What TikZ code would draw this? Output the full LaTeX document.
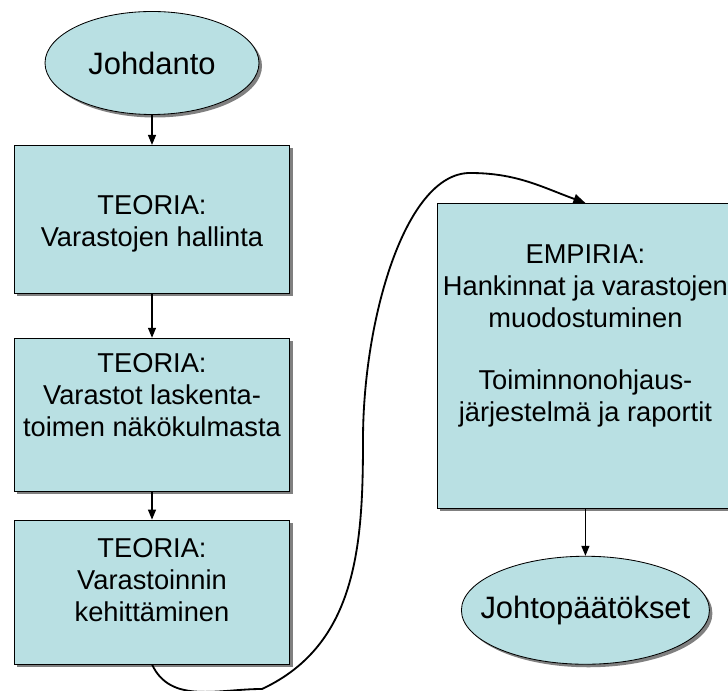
\documentclass[tikz,border=0pt]{standalone}
\usepackage{fontspec}
\setmainfont{Liberation Sans}
\usetikzlibrary{shapes.geometric,shadows,arrows.meta,positioning}
\definecolor{boxfill}{RGB}{185,224,227}

\begin{document}
\begin{tikzpicture}[
                        box/.style={
                            draw,
                            fill=boxfill,
                            line width=0.6pt,
                            minimum width=6.875cm,
                            drop shadow={shadow xshift=0.075cm, shadow yshift=-0.075cm,
                                         fill=black!50, opacity=1}
                        },
                        endball/.style={
                            ellipse,
                            draw,
                            fill=boxfill,
                            line width=0.6pt,
                            inner sep=0pt,
                            drop shadow={shadow xshift=0.075cm, shadow yshift=-0.075cm,
                                         fill=black!50, opacity=1}
                        },
                        balltext/.style={
                            inner sep=0pt,
                            font=\fontsize{22}{26}\selectfont
                        },
                        boxtext/.style={
                            align=center,
                            inner sep=0pt,
                            font=\fontsize{19.4}{22.8}\selectfont
                        },
                        flow/.style={
                            -{Triangle[length=2.5mm,width=2mm]},
                            line width=0.9pt
                        }
                    ]

                    \useasboundingbox (0,0) rectangle (18.2,-17.275);

                    % Johdanto (ellipse, top-left)
                    \node[endball,
                        minimum width=5.35cm,
                        minimum height=2.575cm
                    ] (intro) at (3.8,-1.575) {};

                    \node[balltext] (introtext) at (intro.center) {Johdanto};

                    % TEORIA 1
                    \node[box,
                        minimum height=3.7cm,
                        anchor=north
                    ] (t1) at ([yshift=-0.75cm] intro.south) {};

                    \node[boxtext] (t1text)
                        at ([yshift=-0.1cm] t1.center)
                        {TEORIA:\\Varastojen hallinta};

                    % TEORIA 2
                    \node[box,
                        minimum height=3.825cm,
                        anchor=north
                    ] (t2) at ([yshift=-1.1cm] t1.south) {};

                    \node[boxtext] (t2text)
                        at ([yshift=0.5cm] t2.center)
                        {TEORIA:\\Varastot laskenta-\\toimen näkökulmasta};

                    % TEORIA 3
                    \node[box,
                        minimum height=3.6cm,
                        anchor=north
                    ] (t3) at ([yshift=-0.7cm] t2.south) {};

                    \node[boxtext] (t3text)
                        at ([yshift=0.3cm] t3.center)
                        {TEORIA:\\Varastoinnin\\kehittäminen};

                    % EMPIRIA (right column)
                    \node[box,
                        minimum width=7.4cm,
                        minimum height=7.625cm,
                        anchor=north west
                    ] (emp) at (10.925,-5.075) {};

                    \node[boxtext] (emptext)
                        at ([yshift=0.5cm] emp.center)
                        {EMPIRIA:\\Hankinnat ja varastojen\\muodostuminen\\[0.75cm]
                         Toiminnonohjaus-\\järjestelmä ja raportit};

                    % Johtopaatokset (ellipse, bottom-right)
                    \node[endball,
                        minimum width=6.2cm,
                        minimum height=2.7cm,
                        anchor=north
                    ] (concl) at ([yshift=-1.175cm] emp.south) {};

                    \node[balltext] (concltext) at (concl.center) {Johtopäätökset};

                    % straight arrows
                    \draw[flow] (intro) -- (t1);
                    \draw[flow] (t1) -- (t2);
                    \draw[flow] (t2) -- (t3);
                    \draw[flow] (emp) -- (concl);

                    % curved connector from theory to empiria
                    \coordinate (dip) at (6.55,-17.225);
                    \coordinate (turn) at (9.075,-11.0);
                    \coordinate (crest) at (11.75,-4.325);
                    \draw[-{Triangle[length=3mm,width=2.4mm]}, line width=1.3pt]
                        (t3.south) to[out=-65,in=180] (dip)
                        to[out=25,in=-90] (turn)
                        .. controls (9.075,-8.0) and (10.125,-4.325) .. (crest)
                        to[out=0,in=160] (emp.north);
                    \end{tikzpicture}
\end{document}
